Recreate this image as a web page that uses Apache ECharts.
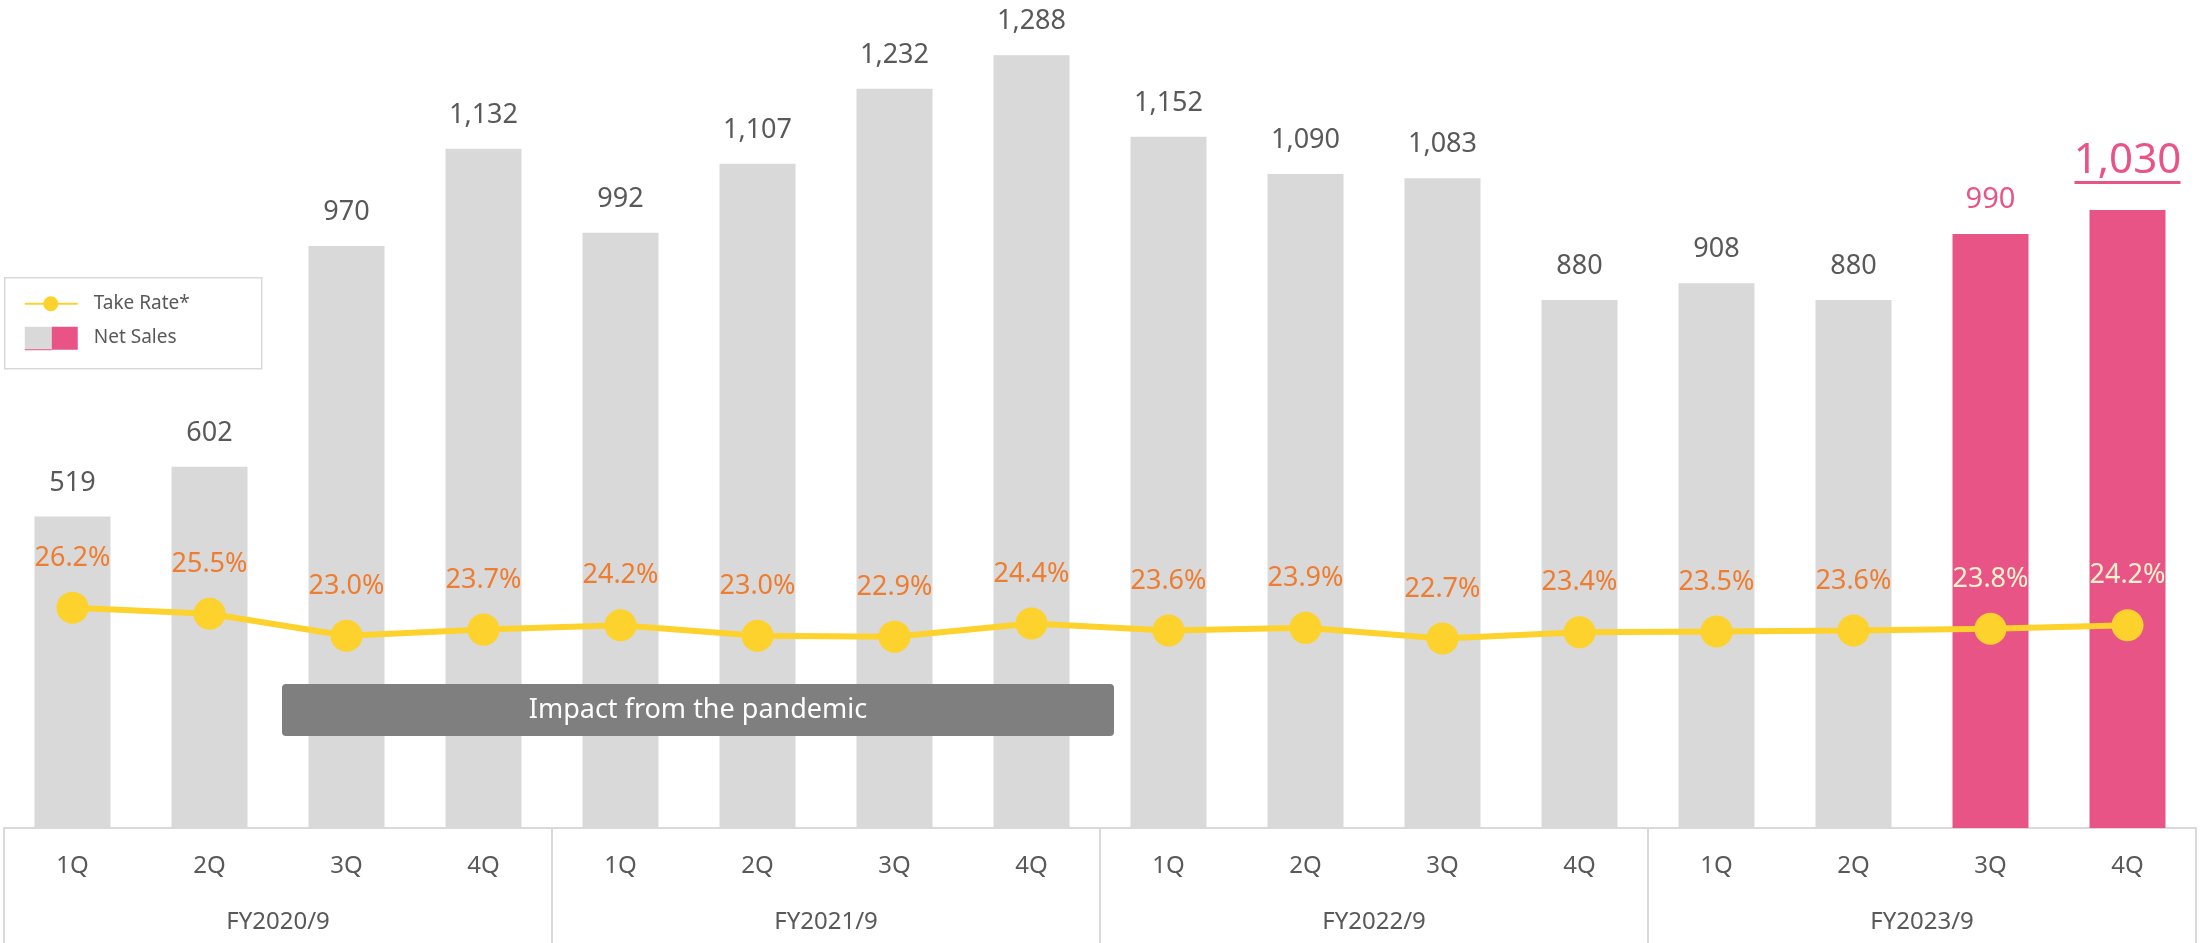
<!DOCTYPE html>
<html>
<head>
<meta charset="utf-8">
<title>Net Sales and Take Rate</title>
<script src="https://cdn.jsdelivr.net/npm/echarts@6/dist/echarts.min.js"></script>
<style>
  html, body { margin: 0; padding: 0; background: #ffffff; }
  #chart { width: 2203px; height: 943px; }
</style>
</head>
<body>
<div id="chart"></div>
<script>
// Quarterly net sales (bars) and take rate (line), FY2020/9 – FY2023/9
const fiscalYears = ['FY2020/9', 'FY2021/9', 'FY2022/9', 'FY2023/9'];
const quarters = ['1Q', '2Q', '3Q', '4Q'];
const netSales = [519, 602, 970, 1132, 992, 1107, 1232, 1288, 1152, 1090, 1083, 880, 908, 880, 990, 1030];
const takeRate = [26.2, 25.5, 23.0, 23.7, 24.2, 23.0, 22.9, 24.4, 23.6, 23.9, 22.7, 23.4, 23.5, 23.6, 23.8, 24.2];
const highlighted = [false, false, false, false, false, false, false, false,
                     false, false, false, false, false, false, true, true];

const FONT = '"Noto Sans", "Open Sans", sans-serif';
const GREY_BAR = '#D9D9D9';
const PINK = '#E85486';
const YELLOW = '#FDD22C';
const ORANGE = '#ED7D31';
const TEXT = '#595959';
const BORDER = '#D9D9D9';

const categories = [];
fiscalYears.forEach(fy => quarters.forEach(q => categories.push(fy + ' ' + q)));

const fmt = v => v.toLocaleString('en-US');
const lastIndex = netSales.length - 1;

const barData = netSales.map((v, i) => {
  const item = {
    value: v,
    itemStyle: { color: highlighted[i] ? PINK : GREY_BAR }
  };
  if (highlighted[i]) {
    item.label = { color: PINK, fontSize: 29 };
  }
  if (i === lastIndex) {
    item.label = {
      distance: 26,
      formatter: p => '{v|' + fmt(p.value) + '}\n{u|}',
      rich: {
        v: { fontSize: 42, lineHeight: 40, color: PINK, fontFamily: FONT, align: 'center' },
        u: { height: 3, width: 106, backgroundColor: PINK, align: 'center' }
      }
    };
  }
  return item;
});

const lineData = takeRate.map((v, i) => {
  const item = { value: v };
  if (highlighted[i]) item.label = { color: '#FFF2CC' };
  return item;
});

const chart = echarts.init(document.getElementById('chart'), null, { renderer: 'canvas' });

chart.setOption({
  backgroundColor: '#ffffff',
  animation: false,
  textStyle: { fontFamily: FONT },
  grid: { left: 4, right: 7, top: 0, bottom: 115, containLabel: false },
  xAxis: [
    {
      type: 'category',
      data: categories,
      position: 'bottom',
      axisLine: { show: true, lineStyle: { color: BORDER, width: 2 } },
      axisTick: { show: false },
      axisLabel: {
        interval: 0,
        margin: 26,
        fontSize: 24,
        color: TEXT,
        fontFamily: FONT,
        formatter: v => v.split(' ')[1]
      },
      splitLine: { show: false }
    },
    {
      type: 'category',
      data: fiscalYears,
      position: 'bottom',
      axisLine: { show: false },
      axisTick: { show: true, interval: 0, length: 115, lineStyle: { color: BORDER, width: 2 } },
      axisLabel: { interval: 0, margin: 82, fontSize: 24, color: TEXT, fontFamily: FONT },
      splitLine: { show: false }
    }
  ],
  yAxis: [
    { type: 'value', min: 0, max: 1380, show: false, splitLine: { show: false } },
    { type: 'value', min: 1.14, max: 95.3, show: false, splitLine: { show: false } }
  ],
  series: [
    {
      name: 'Net Sales',
      type: 'bar',
      xAxisIndex: 0,
      yAxisIndex: 0,
      barWidth: 76,
      data: barData,
      label: {
        show: true,
        position: 'top',
        distance: 20,
        fontSize: 27,
        color: TEXT,
        fontFamily: FONT,
        formatter: p => fmt(p.value)
      }
    },
    {
      name: 'Take Rate*',
      type: 'line',
      xAxisIndex: 0,
      yAxisIndex: 1,
      data: lineData,
      symbol: 'circle',
      symbolSize: 32,
      lineStyle: { color: YELLOW, width: 6 },
      itemStyle: { color: YELLOW },
      label: {
        show: true,
        position: 'top',
        distance: 20,
        fontSize: 27,
        color: ORANGE,
        fontFamily: FONT,
        formatter: p => p.value.toFixed(1) + '%'
      },
      z: 5
    }
  ],
  graphic: [
    // legend box
    {
      type: 'group',
      left: 4,
      top: 277,
      z: 100,
      children: [
        { type: 'rect', z: 100, shape: { x: 0, y: 0, width: 257, height: 91 },
          style: { fill: '#ffffff', stroke: BORDER, lineWidth: 1.5 } },
        { type: 'line', z: 101, shape: { x1: 20, y1: 26, x2: 73, y2: 26 },
          style: { stroke: YELLOW, lineWidth: 2 } },
        { type: 'circle', z: 102, shape: { cx: 46, cy: 26, r: 7.5 }, style: { fill: YELLOW } },
        { type: 'text', z: 101, x: 89, y: 26,
          style: { text: 'Take Rate*', fill: TEXT, fontSize: 19, fontFamily: FONT, verticalAlign: 'middle' } },
        { type: 'rect', z: 101, shape: { x: 20, y: 49, width: 27, height: 23 }, style: { fill: GREY_BAR } },
        { type: 'rect', z: 101, shape: { x: 47, y: 49, width: 26, height: 23 }, style: { fill: PINK } },
        { type: 'line', z: 102, shape: { x1: 20, y1: 72, x2: 47, y2: 72 }, style: { stroke: PINK, lineWidth: 1 } },
        { type: 'text', z: 101, x: 89, y: 60,
          style: { text: 'Net Sales', fill: TEXT, fontSize: 19, fontFamily: FONT, verticalAlign: 'middle' } }
      ]
    },
    // pandemic annotation banner, drawn over the bars
    {
      type: 'group',
      left: 282,
      top: 684,
      z: 100,
      children: [
        { type: 'rect', z: 100, shape: { x: 0, y: 0, width: 832, height: 52, r: 4 },
          style: { fill: '#7F7F7F' } },
        { type: 'text', z: 101, x: 416, y: 26,
          style: { text: 'Impact from the pandemic', fill: '#ffffff', fontSize: 27,
                   fontFamily: FONT, align: 'center', verticalAlign: 'middle' } }
      ]
    }
  ]
});
</script>
</body>
</html>
